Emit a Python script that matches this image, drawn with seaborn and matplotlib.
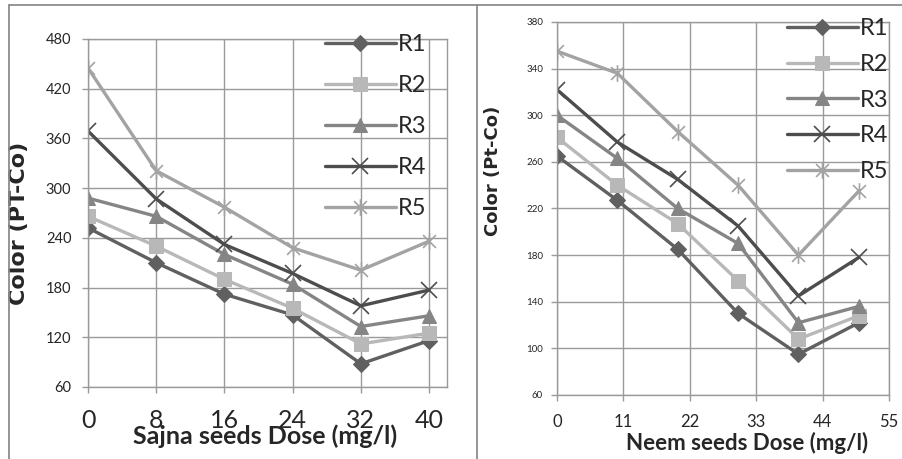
import matplotlib
matplotlib.use("Agg")
import matplotlib.pyplot as plt
import seaborn as sns
import numpy as np
import pandas as pd
from matplotlib.path import Path
from matplotlib.lines import Line2D

# ---------------- data ----------------
series = ["R1", "R2", "R3", "R4", "R5"]

sajna_dose = [0, 8, 16, 24, 32, 40]
sajna_R1 = [252, 210, 172, 147, 88, 116]
sajna_R2 = [266, 230, 190, 155, 112, 125]
sajna_R3 = [288, 266, 220, 184, 133, 146]
sajna_R4 = [369, 287, 232, 197, 158, 177]
sajna_R5 = [445, 321, 277, 228, 201, 236]

neem_dose = [0, 10, 20, 30, 40, 50]
neem_R1 = [265, 227, 185, 130, 95, 122]
neem_R2 = [281, 240, 207, 158, 108, 128]
neem_R3 = [300, 263, 220, 190, 122, 136]
neem_R4 = [322, 277, 245, 205, 145, 178]
neem_R5 = [355, 336, 286, 240, 180, 235]

sajna_xticks = [0, 8, 16, 24, 32, 40]
sajna_yticks = [60, 120, 180, 240, 300, 360, 420, 480]
neem_xticks = [0, 11, 22, 33, 44, 55]
neem_yticks = [60, 100, 140, 180, 220, 260, 300, 340, 380]

# ---------------- style ----------------
sns.set_theme(style="white")
plt.rcParams['font.family'] = ['Lato', 'DejaVu Sans']

colors = {"R1": "#606060", "R2": "#b8b8b8", "R3": "#858585",
          "R4": "#4d4d4d", "R5": "#a3a3a3"}
star = Path([(-1, -1), (1, 1), (-1, 1), (1, -1), (0, -1.3), (0, 1.3)],
            [Path.MOVETO, Path.LINETO, Path.MOVETO, Path.LINETO,
             Path.MOVETO, Path.LINETO])
markers = {"R1": "D", "R2": "s", "R3": "^", "R4": "x", "R5": star}
msize = {"R1": 8, "R2": 10, "R3": 10, "R4": 12, "R5": 12}

def long_df(x, ys):
    rows = []
    for name, vals in zip(series, ys):
        for xi, yi in zip(x, vals):
            rows.append({"dose": xi, "color": yi, "series": name})
    return pd.DataFrame(rows)

df_s = long_df(sajna_dose, [sajna_R1, sajna_R2, sajna_R3, sajna_R4, sajna_R5])
df_n = long_df(neem_dose, [neem_R1, neem_R2, neem_R3, neem_R4, neem_R5])

fig = plt.figure(figsize=(9.03, 4.59), dpi=100)
ax1 = fig.add_axes([88/903, 1-387/459, (447-88)/903, (387-39)/459])
ax2 = fig.add_axes([557/903, 1-395/459, (889-557)/903, (395-22)/459])

grid_c = "#9a9a9a"

def draw(ax, df):
    for name in series:
        sub = df[df["series"] == name]
        m = markers[name]
        filled = m in ("D", "s", "^")
        kw = dict(marker=m, markersize=msize[name], linewidth=2.4,
                  color=colors[name], label=name, ax=ax, data=sub,
                  x="dose", y="color", estimator=None, sort=False)
        if filled:
            kw.update(markeredgecolor=colors[name], markerfacecolor=colors[name])
        else:
            kw.update(markeredgewidth=1.2, markeredgecolor=colors[name])
        sns.lineplot(**kw)
    ax.grid(True, color=grid_c, linewidth=1.0)
    ax.set_axisbelow(True)
    for sp in ax.spines.values():
        sp.set_color(grid_c)
        sp.set_linewidth(1.0)
    ax.tick_params(axis="both", direction="out", length=4, width=1,
                   color=grid_c, bottom=True, left=True)

draw(ax1, df_s)
draw(ax2, df_n)

# left axes
ax1.set_xlim(0, 42.1)
ax1.set_ylim(60, 480)
ax1.set_xticks(sajna_xticks)
ax1.set_yticks(sajna_yticks)
ax1.tick_params(axis="x", labelsize=18, pad=12)
ax1.tick_params(axis="y", labelsize=10.5, pad=8)
ax1.set_xlabel("Sajna seeds Dose (mg/l)", fontsize=18, fontweight="bold")
ax1.set_ylabel("Color (PT-Co)", fontsize=16, fontweight="bold",
               family=["DejaVu Sans"])
ax1.xaxis.set_label_coords(0.493, -0.108)
ax1.yaxis.set_label_coords(-0.165, 0.47)
leg1 = ax1.legend(loc="upper left", bbox_to_anchor=(0.66, 1.015), frameon=False,
                  fontsize=17, handlelength=3.0, handletextpad=0.1,
                  labelspacing=0.85, borderpad=0, borderaxespad=0)

# right axes
ax2.set_xlim(0, 55)
ax2.set_ylim(60, 380)
ax2.set_xticks(neem_xticks)
ax2.set_yticks(neem_yticks)
ax2.tick_params(axis="x", labelsize=12, pad=10)
ax2.tick_params(axis="y", labelsize=7, pad=6)
ax2.set_xlabel("Neem seeds Dose (mg/l)", fontsize=16, fontweight="bold")
ax2.set_ylabel("Color (Pt-Co)", fontsize=13, fontweight="bold",
               family=["DejaVu Sans"])
ax2.xaxis.set_label_coords(0.572, -0.1)
ax2.yaxis.set_label_coords(-0.166, 0.6)
leg2 = ax2.legend(loc="upper left", bbox_to_anchor=(0.693, 1.01), frameon=False,
                  fontsize=17, handlelength=3.0, handletextpad=0.1,
                  labelspacing=0.62, borderpad=0, borderaxespad=0)

# panel frames
fc = "#8c8c8c"
fig.add_artist(Line2D([9/903, 9/903], [0, 1-5/459], color=fc, lw=1.3))
fig.add_artist(Line2D([9/903, 1], [1-5/459, 1-5/459], color=fc, lw=1.3))
fig.add_artist(Line2D([477/903, 477/903], [0, 1-5/459], color=fc, lw=1.3))

fig.savefig("out.png", dpi=100, facecolor="white")
